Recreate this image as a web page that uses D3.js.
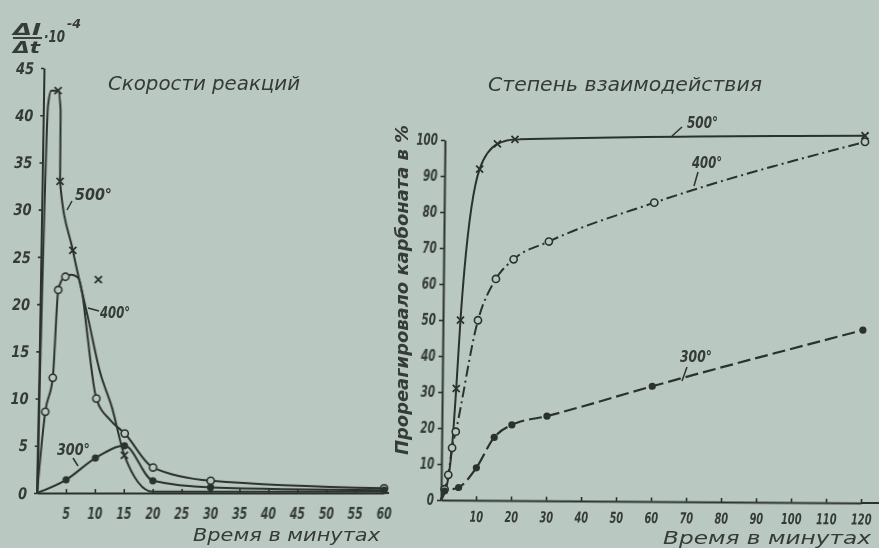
<!DOCTYPE html>
<html>
<head>
<meta charset="utf-8">
<script src="https://cdn.jsdelivr.net/npm/d3@7"></script>
<style>
  html, body { margin: 0; padding: 0; background: #b9c8c0; }
  svg { display: block; }
  text { font-family: "DejaVu Sans Condensed", "DejaVu Sans", sans-serif; font-style: italic; fill: #343a37; }
</style>
</head>
<body>
<svg id="chart" width="879" height="548"></svg>
<script>
// ---- Left panel: reaction rate (ΔI/Δt · 10^-4) vs time, minutes ----
const rateTicksX = [5, 10, 15, 20, 25, 30, 35, 40, 45, 50, 55, 60];
const rateTicksY = [0, 5, 10, 15, 20, 25, 30, 35, 40, 45];

// 500° curve (crosses)
const rate500 = [[0, 0], [0.8, 41], [1.3, 42.6], [2.5, 42.6], [3.0, 40.5], [3.1, 33], [5.5, 25.7], [8.3, 18.6],
                 [10.6, 12.7], [12.7, 9.1], [15, 4], [20, 0.15], [30, 0.15], [60, 0.15]];
const rate500Marks = [[2.5, 42.6], [3.1, 33], [5.5, 25.7], [10, 22.6], [15, 4]];
// 400° curve (open circles)
const rate400 = [[0, 0], [1.2, 8.6], [2.4, 12.2], [3.1, 21.5], [4, 22.8], [5.3, 23.1], [6.5, 22.8], [7.3, 21],
                 [8.2, 17], [10, 10], [12.5, 7.7], [15, 6.3], [20, 2.7], [30, 1.3], [60, 0.5]];
const rate400Marks = [[1.2, 8.6], [2.4, 12.2], [3.1, 21.5], [4.3, 22.9], [10, 10], [15, 6.3], [20, 2.7], [30, 1.3], [60, 0.5]];
// 300° curve (filled dots)
const rate300 = [[0, 0], [5, 1.4], [10, 3.7], [15, 5.0], [20, 1.3], [30, 0.6], [60, 0.3]];
const rate300Marks = [[5, 1.4], [10, 3.7], [15, 5.0], [20, 1.3], [30, 0.6], [60, 0.3]];

// ---- Right panel: extent of reaction, % carbonate reacted vs time ----
const degTicksX = [10, 20, 30, 40, 50, 60, 70, 80, 90, 100, 110, 120];
const degTicksY = [0, 10, 20, 30, 40, 50, 60, 70, 80, 90, 100];

const deg500 = [[0, 0], [1, 2], [2, 6], [3, 15], [4, 31], [5, 50], [10, 92], [15, 99], [20, 100.3], [120, 102]];
const deg500Marks = [[4, 31], [5, 50], [10, 92], [15, 99], [20, 100.3], [120, 102]];
const deg400 = [[0, 0], [1, 3], [2, 7], [3, 14.5], [4, 19], [10, 50], [15, 61.5], [20, 67], [30, 72], [60, 83], [120, 100.3]];
const deg400Marks = [[1, 3], [2, 7], [3, 14.5], [4, 19], [10, 50], [15, 61.5], [20, 67], [30, 72], [60, 83], [120, 100.3]];
const deg300 = [[0, 0], [1, 2.5], [5, 3.5], [10, 9], [15, 17.5], [20, 21], [30, 23.5], [60, 32], [120, 48]];
const deg300Marks = [[1, 2.5], [5, 3.5], [10, 9], [15, 17.5], [20, 21], [30, 23.5], [60, 32], [120, 48]];

const W = 879, H = 548;
const ink = "#2c322f";
const paper = "#b9c8c0";

const svg = d3.select("#chart");
svg.append("rect").attr("width", W).attr("height", H).attr("fill", paper);

const defs = svg.append("defs");
defs.append("filter").attr("id", "soft")
  .attr("x", "-5%").attr("y", "-5%").attr("width", "110%").attr("height", "110%")
  .append("feGaussianBlur").attr("stdDeviation", 0.55);

const root = svg.append("g").attr("filter", "url(#soft)");

// axis styling; perChar sets the drawn width of each tick label (narrow lettering)
function styleAxis(g, size, perChar) {
  g.select(".domain").attr("stroke", ink).attr("stroke-width", 2);
  g.selectAll(".tick line").attr("stroke", ink).attr("stroke-width", 1.6);
  g.selectAll(".tick text").attr("fill", "#343a37").attr("font-size", size)
    .attr("font-weight", "bold").attr("font-style", "italic")
    .attr("textLength", function () { return this.textContent.length * perChar; })
    .attr("lengthAdjust", "spacingAndGlyphs");
}

function drawMarks(g, data, kind, x, y) {
  const sel = g.append("g").selectAll("g").data(data).join("g")
    .attr("transform", d => `translate(${x(d[0])},${y(d[1])})`);
  if (kind === "cross") {
    sel.append("path").attr("d", "M-3.5,-3.5L3.5,3.5M-3.5,3.5L3.5,-3.5")
      .attr("stroke", ink).attr("stroke-width", 1.8).attr("fill", "none");
  } else if (kind === "circle") {
    sel.append("circle").attr("r", 3.6).attr("fill", paper).attr("stroke", ink).attr("stroke-width", 1.6);
  } else {
    sel.append("circle").attr("r", 3.6).attr("fill", ink);
  }
}

// ===== Left panel =====
const xL = d3.scaleLinear().domain([0, 60]).range([37, 384]);
const yL = d3.scaleLinear().domain([0, 45]).range([493, 68]);
const kL = -0.0165;
const gL = root.append("g").attr("transform", `matrix(1,0,${kL},1,${-kL * yL(0)},0)`);

const axLY = gL.append("g").attr("transform", `translate(${xL(0)},0)`)
  .call(d3.axisLeft(yL).tickValues(rateTicksY).tickSizeInner(3).tickSizeOuter(0).tickPadding(7).tickFormat(d3.format("d")));
styleAxis(axLY, 16, 9);
const axLX = gL.append("g").attr("transform", `translate(0,${yL(0)})`)
  .call(d3.axisBottom(xL).tickValues(rateTicksX).tickSizeInner(-4).tickSizeOuter(0).tickPadding(15).tickFormat(d3.format("d")));
styleAxis(axLX, 15, 7.5);
gL.append("line").attr("x1", xL(60)).attr("x2", xL(60) + 5).attr("y1", yL(0)).attr("y2", yL(0))
  .attr("stroke", ink).attr("stroke-width", 2);

const lineL = d3.line().x(d => xL(d[0])).y(d => yL(d[1])).curve(d3.curveMonotoneX);
[rate500, rate400, rate300].forEach(s => {
  gL.append("path").datum(s).attr("d", lineL).attr("fill", "none")
    .attr("stroke", ink).attr("stroke-width", 2).attr("stroke-linejoin", "round");
});
drawMarks(gL, rate500Marks, "cross", xL, yL);
drawMarks(gL, rate400Marks, "circle", xL, yL);
drawMarks(gL, rate300Marks, "dot", xL, yL);

// ===== Right panel =====
const xR = d3.scaleLinear().domain([0, 120]).range([441, 861]);
const yR = d3.scaleLinear().domain([0, 100]).range([500, 140]);
const kR = -0.011, mR = 0.007;
const gR = root.append("g")
  .attr("transform", `matrix(1,${mR},${kR},1,${-kR * yR(0)},${-mR * xR(0)})`);

const axRY = gR.append("g").attr("transform", `translate(${xR(0)},0)`)
  .call(d3.axisLeft(yR).tickValues(degTicksY).tickSizeInner(4).tickSizeOuter(0).tickPadding(3).tickFormat(d3.format("d")));
styleAxis(axRY, 15, 7.2);
const axRX = gR.append("g").attr("transform", `translate(0,${yR(0)})`)
  .call(d3.axisBottom(xR).tickValues(degTicksX).tickSizeInner(-4).tickSizeOuter(0).tickPadding(11).tickFormat(d3.format("d")));
styleAxis(axRX, 15, 6.8);
gR.append("line").attr("x1", xR(120)).attr("x2", W + 5).attr("y1", yR(0)).attr("y2", yR(0))
  .attr("stroke", ink).attr("stroke-width", 2);

const lineR = d3.line().x(d => xR(d[0])).y(d => yR(d[1])).curve(d3.curveMonotoneX);
gR.append("path").datum(deg500).attr("d", lineR).attr("fill", "none")
  .attr("stroke", ink).attr("stroke-width", 2);
gR.append("path").datum(deg400).attr("d", lineR).attr("fill", "none")
  .attr("stroke", ink).attr("stroke-width", 2).attr("stroke-dasharray", "11,4,2,4");
gR.append("path").datum(deg300).attr("d", lineR).attr("fill", "none")
  .attr("stroke", ink).attr("stroke-width", 2.2).attr("stroke-dasharray", "13,5");
drawMarks(gR, deg500Marks, "cross", xR, yR);
drawMarks(gR, deg400Marks, "circle", xR, yR);
drawMarks(gR, deg300Marks, "dot", xR, yR);

// ===== Text =====
function label(str, x, y, size, len, opts = {}) {
  const t = root.append("text").attr("x", x).attr("y", y).attr("font-size", size).text(str);
  if (len) t.attr("textLength", len).attr("lengthAdjust", "spacingAndGlyphs");
  if (opts.weight) t.attr("font-weight", opts.weight);
  if (opts.family) t.style("font-family", opts.family);
  if (opts.transform) t.attr("transform", opts.transform);
  if (opts.anchor) t.attr("text-anchor", opts.anchor);
  return t;
}
function leader(x1, y1, x2, y2) {
  root.append("line").attr("x1", x1).attr("y1", y1).attr("x2", x2).attr("y2", y2)
    .attr("stroke", ink).attr("stroke-width", 1.5);
}

const sansItalic = "'DejaVu Sans', sans-serif";

// titles
label("Скорости реакций", 108, 90, 20, 192, { family: sansItalic });
label("Степень взаимодействия", 488, 91, 20, 274, { family: sansItalic });

// axis titles
label("Время в минутах", 193, 541, 18, 187, { family: sansItalic });
label("Время в минутах", 663, 544, 18, 208, { family: sansItalic });
label("Прореагировало карбоната в %", 0, 0, 17, 330,
  { weight: "bold", transform: "translate(408,455) rotate(-90)" });

// rate axis unit: ΔI/Δt · 10^-4
label("ΔI", 13, 35, 15, 28, { weight: "bold" });
root.append("line").attr("x1", 13).attr("x2", 42).attr("y1", 38).attr("y2", 38)
  .attr("stroke", ink).attr("stroke-width", 1.8);
label("Δt", 13, 53, 15, 27, { weight: "bold" });
label("·10", 44, 42, 15, 21, { weight: "bold" });
label("-4", 67, 28, 13, 14, { weight: "bold" });

// curve labels
label("500°", 75, 200, 15, 37, { weight: "bold" });
leader(67, 210, 72, 201);
label("400°", 100, 318, 15, 30, { weight: "bold" });
leader(88, 308, 99, 311);
label("300°", 57, 455, 15, 33, { weight: "bold" });
leader(73, 458, 78, 466);

label("500°", 687, 128, 15, 31, { weight: "bold" });
leader(672, 136, 682, 127);
label("400°", 692, 168, 15, 30, { weight: "bold" });
leader(694, 186, 698, 172);
label("300°", 680, 362, 15, 32, { weight: "bold" });
leader(682, 381, 687, 367);
</script>
</body>
</html>
